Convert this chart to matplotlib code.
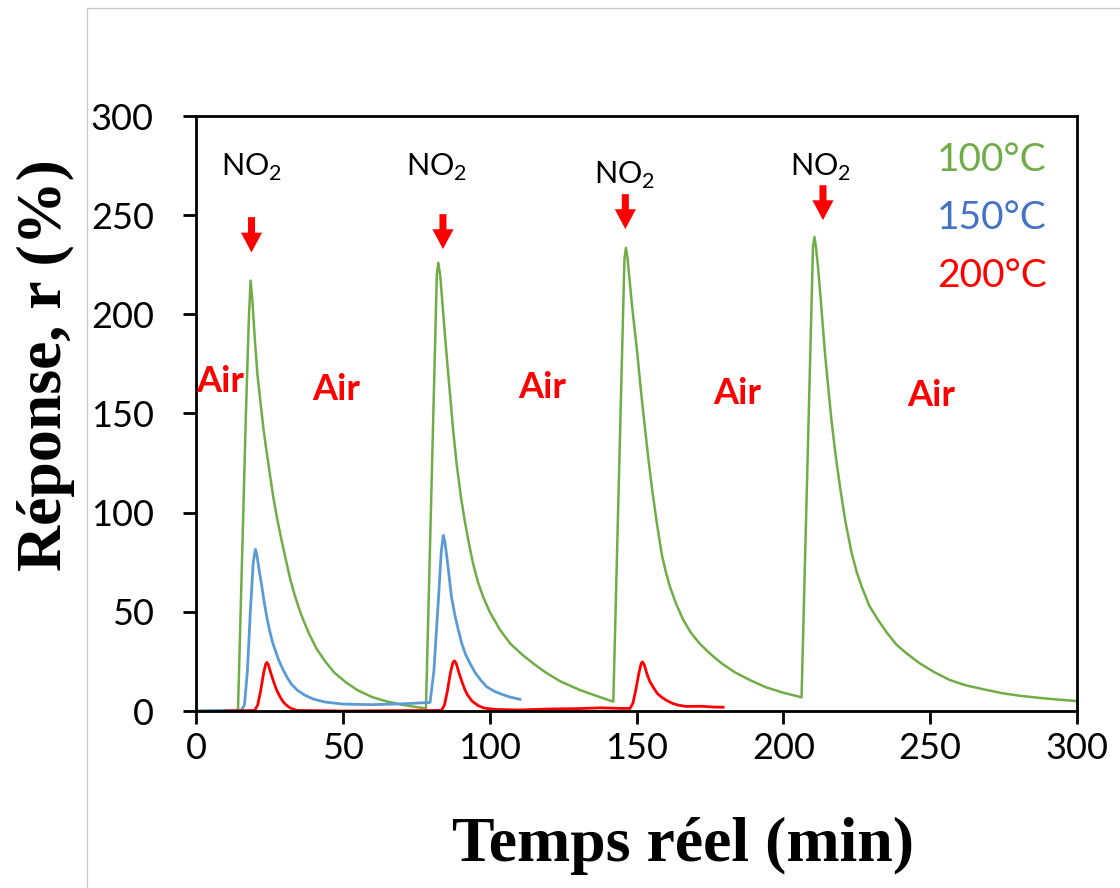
import matplotlib
matplotlib.use("Agg")
import matplotlib.pyplot as plt
from matplotlib.lines import Line2D

# ---------------- data ----------------
# 100 °C (green)
t_100 = [0, 14.3, 17.0, 18.0, 18.6, 19.3, 20.0, 20.9, 22.0, 23.0, 24.1, 25.2, 26.3,
         27.5, 29.0, 30.5, 32.0, 33.5, 35.0, 36.5, 38.5, 41.0, 44.0, 47.0, 51.0,
         55.0, 60.0, 65.0, 70.0, 75.0, 78.3,
         81.5, 82.0, 82.5, 83.2, 84.0, 84.8, 85.6, 86.6, 87.6, 88.8, 90.2, 91.5,
         93.0, 94.4, 96.0, 97.8, 100.0, 103.5, 107.0, 111.0, 114.8, 119.0, 124.0,
         130.7, 136.0, 142.1,
         145.9, 146.4, 146.9, 147.6, 148.5, 149.4, 150.3, 151.4, 152.6, 153.9,
         155.2, 156.9, 158.6, 160.0, 161.4, 163.5, 165.9, 168.5, 171.5, 175.0,
         179.0, 183.5, 188.6, 194.0, 200.0, 206.2,
         210.1, 210.6, 211.1, 211.8, 212.6, 213.4, 214.2, 215.3, 216.4, 217.8,
         219.3, 221.2, 223.3, 225.0, 226.7, 229.3, 232.3, 235.5, 238.5, 242.0,
         246.5, 251.5, 256.7, 262.0, 268.0, 274.8, 281.0, 288.0, 294.0, 300.0]
r_100 = [0, 0.3, 150, 198, 217, 205, 188, 170, 155, 142, 130, 119, 108,
         98, 87, 77, 67, 59, 52, 46, 39, 31.5, 25, 19.5, 14.5,
         10.5, 7, 4.8, 3.2, 2, 1.3,
         190, 220, 226, 219, 204, 189, 175, 158, 141, 124, 108, 96,
         84, 74, 65, 57.5, 50, 41, 34, 28.5, 24, 19.5, 15,
         10.6, 7.8, 4.7,
         228, 233.5, 229, 218, 204, 192, 180, 163, 146.5, 129,
         113, 95, 79, 70, 62.6, 54, 46, 39.5, 34, 29,
         24, 19.5, 15.6, 12, 9.2, 6.9,
         234, 239, 234, 224, 210, 195, 180, 163, 146.5, 129,
         113, 95, 79.4, 70, 62.6, 53, 45.8, 39, 33.5, 29,
         24, 19.5, 15.6, 13, 11, 8.9, 7.6, 6.5, 5.7, 5.0]

# 150 °C (blue)
t_150 = [0, 15.5, 16.5, 17.5, 18.5, 19.5, 20.2, 20.7, 21.5, 22.4, 23.2, 24.1, 25.0,
         26.0, 26.9, 28.2, 29.6, 31.0, 32.5, 34.5, 37.0, 40.0, 44.0, 50.0, 60.0,
         70.0, 79.7, 81.0, 82.5, 83.5, 84.2, 84.8, 85.8, 87.0, 88.2, 89.3, 90.5,
         91.8, 93.3, 95.0, 97.0, 99.0, 101.5, 104.0, 107.0, 110.3]
r_150 = [0, 0.5, 3, 20, 50, 75, 81.5, 79, 71, 63, 55, 47.5, 41,
         35, 31, 25.5, 21, 17, 13.5, 10.5, 8, 6, 4.5, 3.5, 3.2,
         3.6, 4.3, 20, 55, 80, 88.5, 85, 73, 57.5, 48, 41, 34,
         28.5, 24, 19.5, 15.5, 12.2, 10, 8.5, 7, 5.9]

# 200 °C (red)
t_200 = [10, 20.0, 21.0, 22.0, 23.0, 23.7, 24.1, 24.6, 25.5, 26.5, 27.5, 28.5, 29.5,
         30.5, 32.0, 34.3, 50, 70,
         83.6, 84.6, 85.6, 86.6, 87.5, 88.0, 88.6, 89.5, 90.5, 91.5, 92.5, 94.0,
         96.0, 98.0, 102, 110, 120, 130, 138, 145,
         147.8, 148.8, 149.8, 150.8, 151.6, 152.0, 152.6, 153.5, 154.5, 155.7,
         157.0, 158.5, 160.3, 162.0, 164.0, 167.0, 172.0, 176.0, 179.5]
r_200 = [0, 0.3, 3, 10, 19, 23.5, 24.5, 23.5, 19, 14.5, 10.5, 7.5, 5,
         3.3, 1.6, 0.3, 0, 0.2,
         0.3, 3, 10, 19, 24.5, 25.3, 24, 19.5, 15, 11, 8, 5,
         2.8, 1.5, 0.8, 0.5, 1.0, 1.2, 1.6, 1.3,
         1.3, 4, 11, 19, 24, 24.8, 23.5, 19, 15, 12,
         9, 7, 5.3, 4, 3, 2.3, 2.4, 2.0, 1.9]

series_labels = ["100°C", "150°C", "200°C"]
line_colors = ["#70AD47", "#5B9BD5", "#FF0000"]
text_colors = ["#70AD47", "#4472C4", "#FF0000"]

# annotations
no2_x = [18.8, 82.1, 146.1, 212.8]
no2_y = [269.8, 269.8, 265.6, 269.8]
arrow_x = [18.9, 84.1, 146.2, 213.5]
arrow_top = [249.0, 250.5, 260.6, 265.1]
arrow_tip = [231.2, 232.9, 243.0, 247.5]
air_x = [8.2, 47.8, 118.0, 184.3, 250.4]
air_y = [166, 162, 163, 160, 159]
legend_y = [272.3, 242.9, 213.9]

x_ticks = [0, 50, 100, 150, 200, 250, 300]
y_ticks = [0, 50, 100, 150, 200, 250, 300]

# ---------------- figure ----------------
plt.rcParams["font.family"] = ["Lato", "DejaVu Sans"]

fig = plt.figure(figsize=(11.2, 8.88), dpi=100)
ax = fig.add_axes([196 / 1120, 1 - 711 / 888, 881 / 1120, 595 / 888])

ax.plot(t_100, r_100, color=line_colors[0], lw=1.8)
ax.plot(t_150, r_150, color=line_colors[1], lw=2.0)
ax.plot(t_200, r_200, color=line_colors[2], lw=2.0)

ax.set_xlim(0, 300)
ax.set_ylim(0, 300)
ax.set_xticks(x_ticks)
ax.set_yticks(y_ticks)
for s in ax.spines.values():
    s.set_linewidth(2.0)
ax.tick_params(direction="out", length=9.4, width=2.0, labelsize=26)
ax.tick_params(axis="y", pad=21)
ax.tick_params(axis="x", pad=6)

# NO2 labels and arrows
for x, y in zip(no2_x, no2_y):
    ax.text(x, y, r"NO$_\mathregular{2}$", ha="center", va="baseline",
            fontsize=22, color="black")
for x, top, tip in zip(arrow_x, arrow_top, arrow_tip):
    ax.arrow(x, top, 0, tip - top, width=2.4, head_width=7.2, head_length=10,
             length_includes_head=True, color="red", lw=0)

for x, y in zip(air_x, air_y):
    ax.text(x, y, "Air", ha="center", va="center", fontsize=26,
            fontweight="bold", color="red")

for lab, c, y in zip(series_labels, text_colors, legend_y):
    ax.text(289.7, y, lab, ha="right", va="baseline", fontsize=28, color=c)

fig.text(46 / 1120, 1 - 365.5 / 888, "Réponse, r (%)", rotation=90,
         ha="center", va="center", fontsize=46, fontweight="bold",
         family="Liberation Serif")
fig.text(683 / 1120, 1 - 846 / 888, "Temps réel (min)", ha="center",
         va="center", fontsize=46, fontweight="bold", family="Liberation Serif")

# light frame of the original picture
fx = 86.5 / 1120
fy = 1 - 8.3 / 888
fig.add_artist(Line2D([fx, fx], [0, fy], transform=fig.transFigure,
                      color="#c8c8c8", lw=0.9))
fig.add_artist(Line2D([fx, 1], [fy, fy], transform=fig.transFigure,
                      color="#c8c8c8", lw=0.9))

fig.savefig("out.png", dpi=100)
